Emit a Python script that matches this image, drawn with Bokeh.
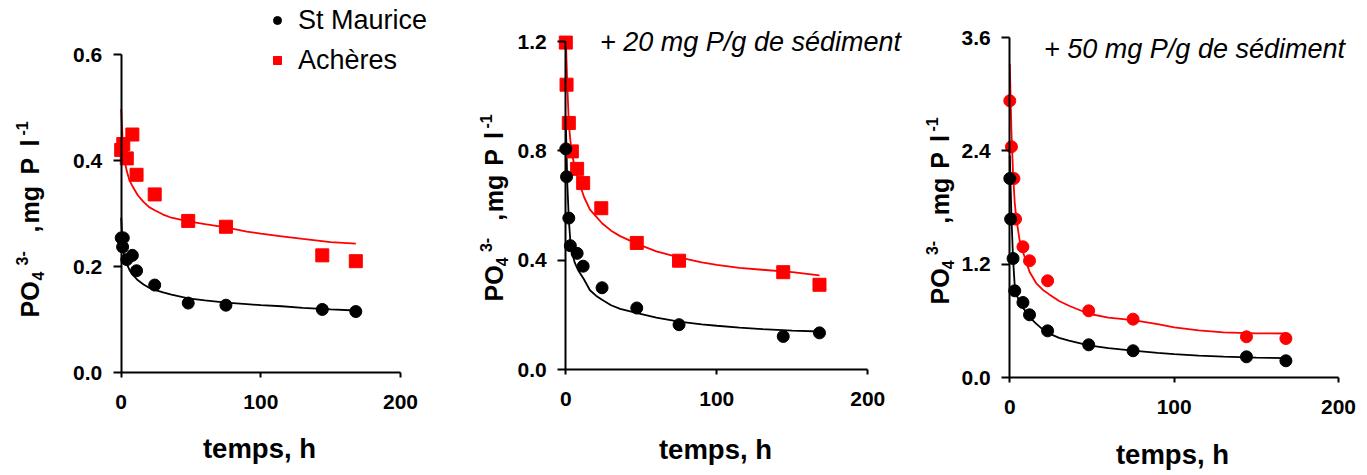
import math
from bokeh.plotting import figure
from bokeh.layouts import row
from bokeh.models import (Range1d, FixedTicker, NumeralTickFormatter, Label,
                          Legend, LegendItem)
from bokeh.embed import file_html
from bokeh.resources import INLINE

# ---------------- data ----------------
# Panel 1 (no addition)
p1_sm_t = [0, 1, 1.5, 4, 8, 11, 24, 48, 75, 144, 168]
p1_sm_v = [0.254, 0.237, 0.254, 0.213, 0.221, 0.192, 0.165, 0.131, 0.127, 0.119, 0.115]
p1_ac_t = [0, 1.5, 4, 8, 11, 24, 48, 75, 144, 168]
p1_ac_v = [0.420, 0.431, 0.404, 0.449, 0.373, 0.336, 0.286, 0.275, 0.221, 0.210]

# Panel 2 (+20 mg P/g)
p2_sm_t = [0, 0.5, 2, 3, 7.5, 11.5, 24, 47, 75, 144, 168]
p2_sm_v = [0.807, 0.705, 0.554, 0.453, 0.425, 0.378, 0.299, 0.225, 0.164, 0.121, 0.134]
p2_ac_t = [0, 0.5, 2, 4, 7.5, 11.5, 23.5, 47, 75, 144, 168]
p2_ac_v = [1.196, 1.042, 0.902, 0.798, 0.734, 0.682, 0.590, 0.463, 0.398, 0.356, 0.310]

# Panel 3 (+50 mg P/g)
p3_sm_t = [0, 0.5, 2, 3, 8, 12, 23, 48, 75, 144, 168]
p3_sm_v = [2.107, 1.677, 1.260, 0.918, 0.794, 0.664, 0.494, 0.346, 0.283, 0.219, 0.177]
p3_ac_t = [0, 1, 2.5, 3.5, 8, 12, 23, 48, 75, 144, 168]
p3_ac_v = [2.930, 2.443, 2.107, 1.677, 1.384, 1.236, 1.024, 0.706, 0.618, 0.431, 0.413]

# model curves
fit_t = [0, 1, 2, 3, 4, 6, 8, 12, 16, 20, 24, 30, 36, 48, 60, 75, 90, 100, 115, 130, 150, 168]
p1_sm_fit = [0.292, 0.240, 0.222, 0.212, 0.205, 0.193, 0.185, 0.174, 0.166, 0.160, 0.156,
             0.151, 0.147, 0.140, 0.136, 0.132, 0.129, 0.127, 0.125, 0.122, 0.119, 0.117]
p1_ac_fit = [0.497, 0.440, 0.410, 0.392, 0.380, 0.362, 0.352, 0.334, 0.322, 0.312, 0.306,
             0.298, 0.292, 0.285, 0.280, 0.274, 0.266, 0.262, 0.257, 0.252, 0.246, 0.243]
p2_sm_fit = [0.910, 0.680, 0.550, 0.470, 0.430, 0.390, 0.365, 0.330, 0.290, 0.270, 0.255,
             0.235, 0.222, 0.205, 0.190, 0.175, 0.165, 0.160, 0.153, 0.148, 0.142, 0.139]
p2_ac_fit = [1.215, 1.040, 0.900, 0.840, 0.790, 0.740, 0.700, 0.632, 0.585, 0.560, 0.535,
             0.508, 0.488, 0.458, 0.432, 0.410, 0.392, 0.383, 0.372, 0.365, 0.356, 0.344]
p3_sm_fit = [2.350, 1.700, 1.250, 0.970, 0.880, 0.800, 0.740, 0.640, 0.570, 0.510, 0.465,
             0.420, 0.390, 0.340, 0.310, 0.285, 0.260, 0.247, 0.232, 0.220, 0.210, 0.205]
p3_ac_fit = [3.320, 2.600, 2.150, 1.850, 1.680, 1.450, 1.330, 1.120, 1.000, 0.930, 0.880,
             0.810, 0.760, 0.675, 0.635, 0.608, 0.565, 0.530, 0.500, 0.478, 0.468, 0.466]

x_ticks = [0, 100, 200]
p1_yticks = [0.0, 0.2, 0.4, 0.6]
p2_yticks = [0.0, 0.4, 0.8, 1.2]
p3_yticks = [0.0, 1.2, 2.4, 3.6]

series_names = ["St Maurice", "Achères"]
notes = ["+ 20 mg P/g de sédiment", "+ 50 mg P/g de sédiment"]
x_title = "temps, h"

FONT = "Liberation Sans"
BLACK = "#000000"
RED = "#FF0000"
H = 475
XMAX = 200
MID = 0.38  # distance (in em) from text middle to its baseline

# y-label pieces: text, size, offset along text (px from bottom), offset across (px, - = raised)
ylabel_pieces = [("PO", 25, 0, 0), ("4", 16, 37, 5), ("3-", 16, 52, -11),
                 (",", 25, 85, 0), ("mg", 25, 94, 0), ("P", 25, 143, 0),
                 ("l", 25, 171, 0), ("-1", 16, 182, -11)]


def make_panel(width, x0px, xmaxpx, ytoppx, y0px, ymax, yticks):
    """Frame fills the whole figure; axes sit at data 0 with bounds."""
    sx = (xmaxpx - x0px) / XMAX
    sy = (y0px - ytoppx) / ymax
    xr = Range1d(-x0px / sx, (width - x0px) / sx)
    yr = Range1d(-(H - y0px) / sy, ymax + ytoppx / sy)
    p = figure(width=width, height=H, output_backend="svg", toolbar_location=None,
               x_range=xr, y_range=yr, min_border=0, min_border_left=0,
               min_border_right=0, min_border_top=0, min_border_bottom=0)
    p.grid.visible = False
    p.outline_line_color = None
    p.background_fill_color = "white"
    p.border_fill_color = "white"
    p.xaxis.ticker = FixedTicker(ticks=x_ticks)
    p.yaxis.ticker = FixedTicker(ticks=yticks)
    p.yaxis.formatter = NumeralTickFormatter(format="0.0")
    p.xaxis.fixed_location = 0
    p.yaxis.fixed_location = 0
    p.xaxis.bounds = (0, XMAX)
    p.yaxis.bounds = (0, ymax)
    for ax in (p.xaxis, p.yaxis):
        ax.axis_line_width = 2
        ax.axis_line_color = BLACK
        ax.major_tick_line_width = 2
        ax.major_tick_line_color = BLACK
        ax.major_tick_in = 0
        ax.minor_tick_line_color = None
        ax.major_label_text_font = FONT
        ax.major_label_text_font_style = "bold"
        ax.major_label_text_font_size = "21px"
        ax.major_label_text_color = BLACK
    p.xaxis.major_tick_out = 5
    p.xaxis.major_label_standoff = 17
    p.yaxis.major_tick_out = 8
    p.yaxis.major_label_standoff = 11
    return p


def add_ylabel(p, base_x, bottom_y, scale):
    for text, size, along, across in ylabel_pieces:
        p.add_layout(Label(x=base_x + across - MID * size,
                           y=H - (bottom_y - along * scale),
                           x_units="screen", y_units="screen", text=text,
                           angle=math.pi / 2, text_font=FONT,
                           text_font_style="bold", text_font_size=f"{size}px",
                           text_align="left", text_baseline="middle",
                           text_color=BLACK))


def add_xlabel(p, cx, base_y):
    size = 27.5
    p.add_layout(Label(x=cx, y=H - (base_y - MID * size), x_units="screen",
                       y_units="screen", text=x_title, text_font=FONT,
                       text_font_style="bold", text_font_size=f"{size}px",
                       text_align="center", text_baseline="middle",
                       text_color=BLACK))


def add_note(p, cx, cy, text):
    p.add_layout(Label(x=cx, y=H - cy, x_units="screen", y_units="screen",
                       text=text, text_font=FONT, text_font_style="italic",
                       text_font_size="27px", text_align="center",
                       text_baseline="middle", text_color=BLACK))


# ---------------- panel 1 ----------------
p1 = make_panel(460, 120.7, 400, 54, 372, 0.6, p1_yticks)
p1.line(fit_t, p1_ac_fit, line_color=RED, line_width=1.8)
p1.line(fit_t, p1_sm_fit, line_color=BLACK, line_width=1.8)
r_ac1 = p1.scatter(p1_ac_t, p1_ac_v, marker="square", size=13, fill_color=RED, line_color=RED)
r_sm1 = p1.scatter(p1_sm_t, p1_sm_v, marker="circle", size=12, fill_color=BLACK, line_color=BLACK)
add_ylabel(p1, 39, 317, 1.0)
add_xlabel(p1, 259, 458)
legend = Legend(items=[LegendItem(label=series_names[0], renderers=[r_sm1]),
                       LegendItem(label=series_names[1], renderers=[r_ac1])],
                location=(267, H - 80), padding=0, margin=0, spacing=0,
                glyph_width=20, glyph_height=40, label_height=40,
                label_standoff=11, label_text_font=FONT,
                label_text_font_size="27px", label_text_color=BLACK,
                background_fill_alpha=0, border_line_color=None)
p1.add_layout(legend)

# ---------------- panel 2 ----------------
p2 = make_panel(450, 105.3, 407.3, 41, 369, 1.2, p2_yticks)
p2.line(fit_t, p2_ac_fit, line_color=RED, line_width=1.8)
p2.line(fit_t, p2_sm_fit, line_color=BLACK, line_width=1.8)
p2.scatter(p2_ac_t, p2_ac_v, marker="square", size=13, fill_color=RED, line_color=RED)
p2.scatter(p2_sm_t, p2_sm_v, marker="circle", size=12, fill_color=BLACK, line_color=BLACK)
add_ylabel(p2, 43, 301, 0.95)
add_xlabel(p2, 255, 459)
add_note(p2, 290, 41, notes[0])

# ---------------- panel 3 ----------------
p3 = make_panel(457, 99.3, 428, 37, 377, 3.6, p3_yticks)
p3.line(fit_t, p3_ac_fit, line_color=RED, line_width=1.8)
p3.line(fit_t, p3_sm_fit, line_color=BLACK, line_width=1.8)
p3.scatter(p3_ac_t, p3_ac_v, marker="circle", size=12, fill_color=RED, line_color=RED)
p3.scatter(p3_sm_t, p3_sm_v, marker="circle", size=12, fill_color=BLACK, line_color=BLACK)
add_ylabel(p3, 39, 304, 0.95)
add_xlabel(p3, 262, 464)
add_note(p3, 284, 48, notes[1])

layout = row(p1, p2, p3, spacing=0)
open("out.html", "w").write(file_html(layout, INLINE))
